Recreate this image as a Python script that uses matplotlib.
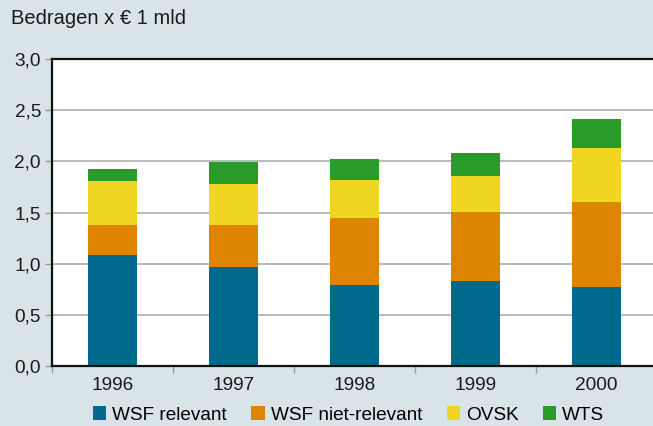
import matplotlib
matplotlib.use("Agg")
import matplotlib.pyplot as plt
import numpy as np
from matplotlib.ticker import MultipleLocator, FixedLocator

years = ["1996", "1997", "1998", "1999", "2000"]
series_names = ["WSF relevant", "WSF niet-relevant", "OVSK", "WTS"]
wsf_relevant = [1.085, 0.97, 0.79, 0.83, 0.77]
wsf_niet_relevant = [0.29, 0.41, 0.655, 0.675, 0.83]
ovsk = [0.43, 0.40, 0.37, 0.35, 0.53]
wts = [0.12, 0.215, 0.205, 0.225, 0.28]
colors = ["#006A8C", "#DD8400", "#F0D621", "#2A9A28"]

plt.rcParams["font.family"] = ["Liberation Sans", "DejaVu Sans"]
bg = "#D9E4E8"
fs = 13.7

fig = plt.figure(figsize=(6.53, 4.26), dpi=100, facecolor=bg)
ax = fig.add_axes([52 / 653, 60 / 426, (653 - 52) / 653, 307 / 426])
ax.set_facecolor("white")

x = np.arange(len(years))
bottom = np.zeros(len(years))
for name, vals, c in zip(series_names, [wsf_relevant, wsf_niet_relevant, ovsk, wts], colors):
    ax.bar(x, vals, width=0.41, bottom=bottom, color=c, label=name, zorder=3)
    bottom += np.array(vals)

ax.set_ylim(0, 3.0)
ax.set_xlim(-0.5, 4.5 - 4 / 121)
ax.yaxis.set_major_locator(MultipleLocator(0.5))
ax.set_yticklabels([f"{v:.1f}".replace(".", ",") for v in ax.get_yticks()])
ax.yaxis.grid(True, color="#B4B4B4", linewidth=1.3, zorder=0)

ax.set_xticks(x)
ax.set_xticklabels(years)
ax.xaxis.set_minor_locator(FixedLocator(np.arange(-0.5, 4.6, 1.0)))
ax.tick_params(axis="x", which="major", length=0, pad=8, labelsize=fs, colors="#1a1a1a")
ax.tick_params(axis="x", which="minor", length=5, width=1, color="#9a9a9a", direction="out")
ax.tick_params(axis="y", which="major", length=5, width=1, color="#9a9a9a", pad=3,
               labelsize=fs, labelcolor="#1a1a1a")

for side in ["left", "bottom", "top"]:
    ax.spines[side].set_color("#111111")
    ax.spines[side].set_linewidth(1.6)
    ax.spines[side].set_zorder(5)
ax.spines["right"].set_visible(False)

fig.text(11 / 653, 1 - 19 / 426, "Bedragen x € 1 mld", fontsize=14.5, color="#1a1a1a",
         va="center", ha="left")

leg = fig.legend(loc="center", bbox_to_anchor=(0.534, 1 - 415 / 426), ncol=4, frameon=False,
                 fontsize=fs, handlelength=0.7, handleheight=0.7, handletextpad=0.3,
                 columnspacing=1.3, borderaxespad=0)

fig.savefig("out.png", dpi=100, facecolor=bg)
